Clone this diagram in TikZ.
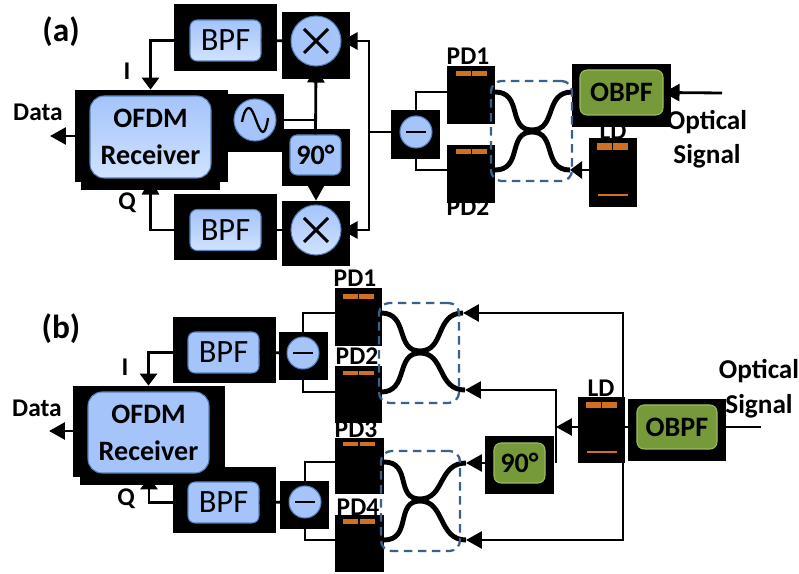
\documentclass[tikz,border=0pt]{standalone}
\usepackage{fontspec}
\setmainfont{Carlito}
\usetikzlibrary{arrows.meta}
\definecolor{rxblue}{RGB}{164,196,250}
\definecolor{rxpale}{RGB}{208,226,255}
\definecolor{rxedge}{RGB}{84,128,186}
\definecolor{optgreen}{RGB}{118,153,58}
\definecolor{optedge}{RGB}{156,188,98}
\definecolor{pdorange}{RGB}{208,112,32}
\definecolor{dashblue}{RGB}{58,96,144}

\begin{document}
\begin{tikzpicture}[
        x=0.02cm, y=-0.02cm,
        shadowbox/.style n args={2}{fill=black, inner sep=0pt, minimum width=#1*0.02cm, minimum height=#2*0.02cm},
        flatblue/.style={draw=rxedge, semithick, fill=rxblue},
        fadeblue/.style={draw=rxedge, semithick, top color=rxblue, middle color=rxblue, bottom color=rxpale},
        block/.style n args={2}{rounded corners=4pt, inner sep=0pt, minimum width=#1*0.02cm, minimum height=#2*0.02cm, align=center},
        disc/.style={circle, inner sep=0pt, minimum size=#1*0.02cm},
        greenblock/.style={draw=optedge, semithick, fill=optgreen},
        bpflabel/.style={font=\fontsize{18.5}{20}\selectfont},
        rxlabel/.style={font=\bfseries\fontsize{16}{19}\selectfont},
        optlabel/.style={font=\bfseries\fontsize{16}{19}\selectfont},
        tag/.style={font=\bfseries\fontsize{14.5}{16}\selectfont, inner sep=0pt},
        wideglyph/.style={font=\bfseries\fontsize{15.5}{17}\selectfont, inner sep=0pt, align=center},
        capfont/.style={font=\bfseries\fontsize{19}{21}\selectfont, inner sep=0pt},
        pdbar/.style n args={2}{fill=pdorange, inner sep=0pt, minimum width=#1*0.02cm, minimum height=#2*0.02cm,
          path picture={\draw[black, semithick] (path picture bounding box.north) -- (path picture bounding box.south);}},
        pdline/.style={fill=pdorange, inner sep=0pt, minimum width=0.6cm, minimum height=0.03cm},
        conn/.style={line width=1.6pt},
        sig/.style={line width=1.6pt, -{Triangle[length=0.24cm, width=0.34cm]}},
        sigh/.style={line width=1.6pt, -{Triangle[length=0.32cm, width=0.34cm]}},
        fiber/.style={line width=2.8pt},
        stroke/.style={line width=1.7pt},
        dashbox/.style n args={2}{draw=dashblue, line width=1.3pt, dash pattern=on 0.17cm off 0.11cm, rounded corners=6pt, inner sep=0pt, minimum width=#1*0.02cm, minimum height=#2*0.02cm}
      ]
      \useasboundingbox (0,0) rectangle (799,574);

      % texts that the boxes partly cover
      \node[tag] (pdA1txt) at (468,56) {PD1};
      \node[tag] (pdA2txt) at (468,207) {PD2};
      \node[tag] (ldAtxt) at (613,131) {LD};
      \node[tag] (pdB1txt) at (355,278) {PD1};
      \node[tag] (pdB2txt) at (357,356) {PD2};
      \node[tag] (pdB3txt) at (356,429) {PD3};
      \node[tag] (pdB4txt) at (358,507) {PD4};
      \node[tag] (ldBtxt) at (601,388) {LD};

      % (a) black backings
      \node[shadowbox={103}{67}] (bpfAbk) at (225.5,37.5) {};
      \node[shadowbox={68}{67}] (mixAbk) at (316,45.5) {};
      \node[shadowbox={153}{92}] (ofdmAbk) at (151.5,136) {};
      \node[shadowbox={139}{100}] (ofdmAsk) at (150.5,140) {};
      \node[shadowbox={56}{58}] (oscbk) at (256,123) {};
      \node[shadowbox={68}{57}] (nineAbk) at (316,157.5) {};
      \node[shadowbox={68}{65}] (mixBbk) at (316,233.5) {};
      \node[shadowbox={103}{66}] (bpfBbk) at (225.5,227) {};
      \node[shadowbox={49}{49}] (subAbk) at (415.5,134.5) {};
      \node[shadowbox={48}{58}] (pdA1) at (471,95) {};
      \node[shadowbox={48}{58}] (pdA2) at (471,174) {};
      \node[shadowbox={99}{63}] (obpfAbk) at (621.5,95.5) {};
      \node[shadowbox={48}{69}] (ldAbk) at (613,172.5) {};

      % (a) blocks
      \node[block={71}{41}, fadeblue, bpflabel] (bpfA) at (225.5,40.5) {BPF};
      \node[disc=50, flatblue] (mixA) at (316,41) {};
      \node[block={121}{82}, fadeblue, rxlabel, rounded corners=8pt] (ofdmA) at (150.5,137) {OFDM\\[2pt]Receiver};
      \node[disc=42, flatblue] (osc) at (255,120) {};
      \node[block={51}{40}, flatblue, rxlabel] (nineA) at (315.5,155) {90°};
      \node[disc=50, fadeblue] (mixB) at (316,230) {};
      \node[block={71}{41}, fadeblue, bpflabel] (bpfB) at (225.5,230) {BPF};
      \node[disc=32, flatblue] (subA) at (416,132) {};
      \node[block={83}{45}, greenblock, optlabel] (obpfA) at (621.5,92.5) {OBPF};

      \node[pdbar={31}{5}] (barA1) at (471.5,74) {};
      \node[pdbar={31}{5}] (barA2) at (471.5,152) {};
      \node[pdbar={31}{7}] (barA3) at (612.5,147) {};
      \node[pdline] (lineA3) at (613,195) {};

      \draw[stroke] ([shift={(-12,-12)}]mixA.center) -- ([shift={(12,12)}]mixA.center);
      \draw[stroke] ([shift={(-12,12)}]mixA.center) -- ([shift={(12,-12)}]mixA.center);
      \draw[stroke] ([shift={(-12,-12)}]mixB.center) -- ([shift={(12,12)}]mixB.center);
      \draw[stroke] ([shift={(-12,12)}]mixB.center) -- ([shift={(12,-12)}]mixB.center);
      \draw[stroke] ([shift={(-10,0)}]subA.center) -- ([shift={(10,0)}]subA.center);
      \draw[line width=1.3pt] ([shift={(-13,2)}]osc.center)
        .. controls ([shift={(-11,-8)}]osc.center) and ([shift={(-9,-12)}]osc.center) .. ([shift={(-6,-12)}]osc.center)
        .. controls ([shift={(-1,-12)}]osc.center) and ([shift={(3,12)}]osc.center) .. ([shift={(8,12)}]osc.center)
        .. controls ([shift={(10,12)}]osc.center) and ([shift={(12,6)}]osc.center) .. ([shift={(13,-2)}]osc.center);

      % (a) connectors
      \coordinate (dataA) at (50,136);
      \coordinate (busA) at (369,132);
      \coordinate (inA) at (722,93);
      \coordinate (portA1) at (495,92);
      \coordinate (portA2) at (495,170);
      \coordinate (portA3) at (572,92);
      \coordinate (portA4) at (570,170);
      \coordinate (midAt) at (532,130);
      \coordinate (midAb) at (532,132);
      \draw[sig] (bpfA.west) -| (ofdmAsk.north);
      \draw[sigh] (bpfB.west) -| (ofdmA.south);
      \draw[conn] (bpfA.east) -- (mixA.west);
      \draw[conn] (bpfB.east) -- (mixB.west);
      \draw[sigh] (ofdmAbk.west) -- (dataA);
      \draw[conn] (osc.east) -- (osc.east -| nineA);
      \draw[sigh] (nineA.north) -- (mixA.south);
      \draw[sigh] (nineAbk.south) -- (mixBbk.north);
      \draw[conn] (subA.west) -- (busA);
      \draw[sigh] (busA) |- (mixA.east);
      \draw[sigh] (busA) |- (mixB.east);
      \draw[conn] (subA.north) |- (portA1);
      \draw[conn] (subA.south) |- (portA2);
      \draw[sigh] (inA) -- (obpfA.east);
      \draw[sig] (ldAbk.west |- portA4) -- (portA4);
      \draw[fiber] (portA1) .. controls +(28,0) and +(-25,0) .. (midAt) .. controls +(25,0) and +(-28,0) .. (portA3);
      \draw[fiber] (portA2) .. controls +(28,0) and +(-25,0) .. (midAb) .. controls +(25,0) and +(-28,0) .. (portA4);
      \node[dashbox={81}{100}] (dashA) at (531.5,131) {};

      % (b) black backings
      \node[shadowbox={103}{66}] (bpfCbk) at (224.5,350) {};
      \node[shadowbox={49}{48}] (subBbk) at (303.5,356) {};
      \node[shadowbox={152}{91}] (ofdmBbk) at (149,431.5) {};
      \node[shadowbox={137}{99}] (ofdmBsk) at (148.5,435.5) {};
      \node[shadowbox={103}{66}] (bpfDbk) at (224.5,500) {};
      \node[shadowbox={49}{48}] (subCbk) at (304.5,505) {};
      \node[shadowbox={47}{58}] (pdB1) at (358.5,317) {};
      \node[shadowbox={47}{57}] (pdB2) at (358.5,394.5) {};
      \node[shadowbox={49}{56}] (pdB3) at (359.5,466) {};
      \node[shadowbox={49}{57}] (pdB4) at (359.5,543.5) {};
      \node[shadowbox={69}{58}] (nineBbk) at (519.5,465) {};
      \node[shadowbox={47}{66}] (ldBbk) at (601.5,430) {};
      \node[shadowbox={98}{62}] (obpfBbk) at (677,430) {};

      % (b) blocks
      \node[block={71}{41}, flatblue, bpflabel] (bpfC) at (223.5,352.5) {BPF};
      \node[disc=32, flatblue] (subB) at (303,353) {};
      \node[block={121}{81}, flatblue, rxlabel, rounded corners=8pt] (ofdmB) at (148.5,432.5) {OFDM\\[2pt]Receiver};
      \node[block={71}{41}, flatblue, bpflabel] (bpfD) at (223.5,502.5) {BPF};
      \node[disc=32, flatblue] (subC) at (305,502) {};
      \node[block={51}{40}, greenblock, rxlabel] (nineB) at (519.5,463) {90°};
      \node[block={80}{44}, greenblock, optlabel] (obpfB) at (677,427) {OBPF};

      \node[pdbar={31}{5}] (barB1) at (358.5,296.5) {};
      \node[pdbar={31}{4}] (barB2) at (358.5,373.5) {};
      \node[pdbar={32}{4}] (barB3) at (359,444.5) {};
      \node[pdbar={32}{5}] (barB4) at (359,522) {};
      \node[pdbar={31}{6}] (barB5) at (601.5,405.5) {};
      \node[pdline] (lineB5) at (601.5,452) {};

      \draw[stroke] ([shift={(-10,0)}]subB.center) -- ([shift={(10,0)}]subB.center);
      \draw[stroke] ([shift={(-10,0)}]subC.center) -- ([shift={(10,0)}]subC.center);

      % (b) connectors
      \coordinate (dataB) at (49,431);
      \coordinate (tapB) at (623,427);
      \coordinate (splitB) at (556,427);
      \coordinate (inB) at (761,427);
      \coordinate (portB1) at (381,313);
      \coordinate (portB2) at (381,392);
      \coordinate (portB3) at (463,313);
      \coordinate (portB4) at (465,390);
      \coordinate (midBt) at (420,351);
      \coordinate (midBb) at (420,353);
      \coordinate (portC1) at (384,462);
      \coordinate (portC2) at (384,540);
      \coordinate (portC3) at (466,463);
      \coordinate (portC4) at (466,540);
      \coordinate (midCt) at (420,499);
      \coordinate (midCb) at (420,501);
      \draw[sig] (bpfC.west) -| (ofdmBsk.north);
      \draw[sig] (bpfD.west) -| (ofdmBbk.south);
      \draw[conn] (bpfC.east) -- (subB.west);
      \draw[conn] (bpfD.east) -- (subC.west);
      \draw[sigh] (ofdmBbk.west |- dataB) -- (dataB);
      \draw[conn] (subB.north) |- (portB1);
      \draw[conn] (subB.south) |- (portB2);
      \draw[conn] (subC.north) |- (portC1);
      \draw[conn] (subC.south) |- (portC2);
      \draw[sigh] (tapB) |- (portB3);
      \draw[sigh] (tapB) |- (portC4);
      \draw[conn] (tapB) -- (obpfB.west);
      \draw[conn] (inB) -- (obpfB.east);
      \draw[sigh] (ldBbk.west |- splitB) -- (splitB);
      \draw[sigh] (splitB |- portC3) |- (portB4);
      \draw[sigh] (nineBbk.west |- portC3) -- (portC3);
      \draw[fiber] (portB1) .. controls +(28,0) and +(-25,0) .. (midBt) .. controls +(25,0) and +(-28,0) .. (portB3);
      \draw[fiber] (portB2) .. controls +(28,0) and +(-25,0) .. (midBb) .. controls +(25,0) and +(-28,0) .. (portB4);
      \draw[fiber] (portC1) .. controls +(28,0) and +(-25,0) .. (midCt) .. controls +(25,0) and +(-28,0) .. (portC3);
      \draw[fiber] (portC2) .. controls +(28,0) and +(-25,0) .. (midCb) .. controls +(25,0) and +(-28,0) .. (portC4);
      \node[dashbox={80}{100}] (dashB) at (419,353) {};
      \node[dashbox={79}{100}] (dashC) at (420.5,501) {};

      % free labels
      \node[capfont] (capA) at (61,32) {(a)};
      \node[capfont] (capB) at (61,329) {(b)};
      \node[tag] (dataAtxt) at (38,112) {Data};
      \node[tag] (dataBtxt) at (37,408) {Data};
      \node[tag] (iAtxt) at (127,71) {I};
      \node[tag] (qAtxt) at (127,203) {Q};
      \node[tag] (iBtxt) at (125,367) {I};
      \node[tag] (qBtxt) at (126,499) {Q};
      \node[wideglyph] (optAtxt) at (707,122) {Optical};
      \node[wideglyph] (sigAtxt) at (707,156) {Signal};
      \node[wideglyph] (optBtxt) at (759,371) {Optical};
      \node[wideglyph] (sigBtxt) at (759,406) {Signal};
    \end{tikzpicture}
\end{document}
